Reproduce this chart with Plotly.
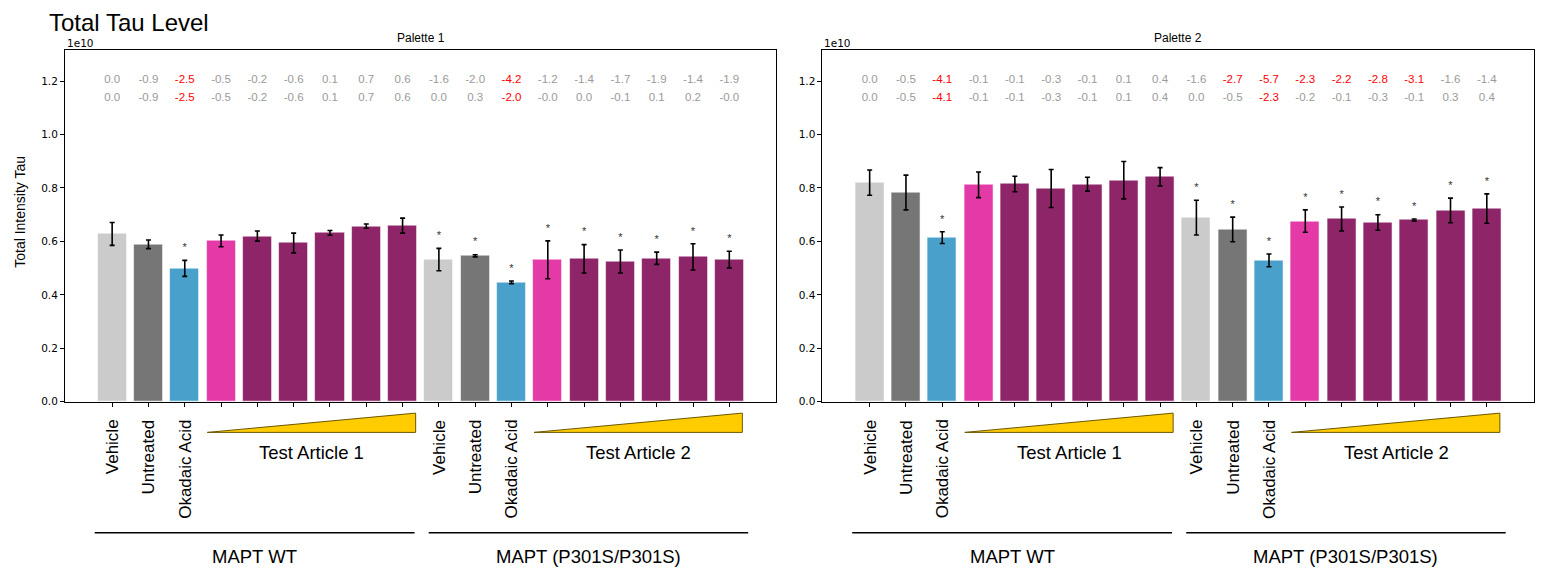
import plotly.graph_objects as go

FONT = "Liberation Sans, Arial, sans-serif"
TICK_FONT = "DejaVu Sans, sans-serif"

PANEL_TITLES = ["Palette 1", "Palette 2"]
GROUP_NAMES = ["MAPT WT", "MAPT (P301S/P301S)"]
CONTROL_LABELS = ["Vehicle", "Untreated", "Okadaic Acid"]
ARTICLE_LABELS = ["Test Article 1", "Test Article 2"]
Y_TICKS = [0.0, 0.2, 0.4, 0.6, 0.8, 1.0, 1.2]

BAR_COLORS = (["#cbcbcb", "#767676", "#48a0cb", "#e43aa7"] + ["#8e2568"] * 5) * 2

# panel 1 (Palette 1), units of 1e10
P1_MEAN = [0.628, 0.589, 0.499, 0.602, 0.620, 0.594, 0.632, 0.657, 0.659,
           0.532, 0.546, 0.447, 0.531, 0.535, 0.525, 0.537, 0.542, 0.532]
P1_ERR = [0.043, 0.016, 0.030, 0.022, 0.019, 0.037, 0.009, 0.008, 0.028,
          0.042, 0.004, 0.005, 0.071, 0.053, 0.043, 0.023, 0.049, 0.031]
P1_STAR = [0, 0, 1, 0, 0, 0, 0, 0, 0, 1, 1, 1, 1, 1, 1, 1, 1, 1]
P1_ROW1 = ["0.0", "-0.9", "-2.5", "-0.5", "-0.2", "-0.6", "0.1", "0.7", "0.6",
           "-1.6", "-2.0", "-4.2", "-1.2", "-1.4", "-1.7", "-1.9", "-1.4", "-1.9"]
P1_ROW1_RED = [0, 0, 1, 0, 0, 0, 0, 0, 0, 0, 0, 1, 0, 0, 0, 0, 0, 0]
P1_ROW2 = ["0.0", "-0.9", "-2.5", "-0.5", "-0.2", "-0.6", "0.1", "0.7", "0.6",
           "0.0", "0.3", "-2.0", "-0.0", "0.0", "-0.1", "0.1", "0.2", "-0.0"]
P1_ROW2_RED = [0, 0, 1, 0, 0, 0, 0, 0, 0, 0, 0, 1, 0, 0, 0, 0, 0, 0]

# panel 2 (Palette 2)
P2_MEAN = [0.820, 0.783, 0.614, 0.812, 0.815, 0.798, 0.814, 0.829, 0.842,
           0.689, 0.645, 0.529, 0.676, 0.684, 0.671, 0.680, 0.716, 0.723]
P2_ERR = [0.047, 0.065, 0.022, 0.048, 0.029, 0.071, 0.026, 0.070, 0.034,
          0.065, 0.046, 0.024, 0.042, 0.045, 0.029, 0.004, 0.046, 0.055]
P2_STAR = [0, 0, 1, 0, 0, 0, 0, 0, 0, 1, 1, 1, 1, 1, 1, 1, 1, 1]
P2_ROW1 = ["0.0", "-0.5", "-4.1", "-0.1", "-0.1", "-0.3", "-0.1", "0.1", "0.4",
           "-1.6", "-2.7", "-5.7", "-2.3", "-2.2", "-2.8", "-3.1", "-1.6", "-1.4"]
P2_ROW1_RED = [0, 0, 1, 0, 0, 0, 0, 0, 0, 0, 1, 1, 1, 1, 1, 1, 0, 0]
P2_ROW2 = ["0.0", "-0.5", "-4.1", "-0.1", "-0.1", "-0.3", "-0.1", "0.1", "0.4",
           "0.0", "-0.5", "-2.3", "-0.2", "-0.1", "-0.3", "-0.1", "0.3", "0.4"]
P2_ROW2_RED = [0, 0, 1, 0, 0, 0, 0, 0, 0, 0, 0, 1, 0, 0, 0, 0, 0, 0]

PANELS = [
    (P1_MEAN, P1_ERR, P1_STAR, P1_ROW1, P1_ROW1_RED, P1_ROW2, P1_ROW2_RED),
    (P2_MEAN, P2_ERR, P2_STAR, P2_ROW1, P2_ROW1_RED, P2_ROW2, P2_ROW2_RED),
]

# page is 1543x576 with the default 8px body margin around the figure
PAD = 8
W, H = 1543 - 2 * PAD, 576 - 2 * PAD


def px(page_x):
    return (page_x - PAD) / W


def py(page_y):
    return 1 - (page_y - PAD) / H


X_DOMAINS = [(px(65), px(777)), (px(823), px(1535))]
Y_DOMAIN = (py(406), py(50))
Y_MAX = 1.318
ROW1_Y, ROW2_Y = 1.205, 1.137
STAR_GAP = 0.045
GRAY, RED = "#9a9a9a", "#ff0000"

fig = go.Figure()
annotations = []
shapes = []


def note(text, x, y, xref="paper", size=12, **kw):
    kw.setdefault("xanchor", "center")
    kw.setdefault("yanchor", "middle")
    family = kw.pop("family", FONT)
    annotations.append(dict(text=text, x=x, y=y, xref=xref, yref="paper", showarrow=False,
                            font=dict(family=family, size=size, color="black"), **kw))


for p, (mean, err, star, row1, red1, row2, red2) in enumerate(PANELS):
    sfx = "" if p == 0 else str(p + 1)
    xref, yref = "x" + sfx, "y" + sfx
    xs = list(range(len(mean)))

    fig.add_trace(go.Bar(
        x=xs, y=mean, width=0.8, xaxis=xref, yaxis=yref,
        marker=dict(color=BAR_COLORS, line=dict(color="rgba(255,255,255,0.7)", width=0.8)),
        error_y=dict(type="data", array=err, color="black", thickness=1.6, width=2.5),
        showlegend=False,
    ))

    sx = [i for i in xs if star[i]]
    sy = [mean[i] + err[i] + STAR_GAP for i in sx]
    fig.add_trace(go.Scatter(
        x=sx, y=sy, mode="text", text=["*"] * len(sx), xaxis=xref, yaxis=yref,
        textfont=dict(family=FONT, size=11, color="#333333"), showlegend=False,
    ))

    for row, red, yv in ((row1, red1, ROW1_Y), (row2, red2, ROW2_Y)):
        fig.add_trace(go.Scatter(
            x=xs, y=[yv] * len(xs), mode="text", text=row, xaxis=xref, yaxis=yref,
            textfont=dict(family=FONT, size=11.5, color=[RED if r else GRAY for r in red]),
            showlegend=False,
        ))

    x0, x1 = X_DOMAINS[p]
    axis_common = dict(showline=True, mirror=True, linecolor="black", linewidth=1,
                       ticks="outside", ticklen=4, tickcolor="black", showgrid=False,
                       zeroline=False)
    fig.layout["xaxis" + sfx] = dict(
        domain=[x0, x1], range=[-1.3, 18.3], anchor=yref, tickvals=xs,
        showticklabels=False, **axis_common)
    fig.layout["yaxis" + sfx] = dict(
        domain=list(Y_DOMAIN), range=[0, Y_MAX], anchor=xref, tickvals=Y_TICKS,
        tickformat=".1f", tickfont=dict(family=TICK_FONT, size=10.5, color="black"),
        **axis_common)

    note(PANEL_TITLES[p], (x0 + x1) / 2, py(38), size=12)
    note("1e10", x0, py(43), size=10.5, xanchor="left", family=TICK_FONT)

    # rotated control labels under the bars of each genotype group
    for g in range(2):
        base = g * 9
        for k, lab in enumerate(CONTROL_LABELS):
            note(lab, base + k, py(422), xref=xref, size=17, textangle=-90, yanchor="top")
        lo, hi = base + 2.62, base + 8.36
        shapes.append(dict(type="path", xref=xref, yref="paper",
                           path=f"M {lo},{py(437)} L {hi},{py(417.5)} L {hi},{py(437)} Z",
                           fillcolor="#ffcc00", line=dict(color="#6b5800", width=1)))
        note(ARTICLE_LABELS[g], base + 5.5, py(457), xref=xref, size=18.5)

    for g, (lo, hi) in enumerate(((-0.48, 8.33), (8.72, 17.52))):
        shapes.append(dict(type="line", xref=xref, yref="paper", x0=lo, x1=hi,
                           y0=py(538.5), y1=py(538.5), line=dict(color="black", width=1.5)))
        note(GROUP_NAMES[g], (lo + hi) / 2, py(562), xref=xref, size=18.5)

note("Total Intensity Tau", px(20), py(214), size=14, textangle=-90)
# the figure starts 8px down the page, so the title hugs its top edge
note("Total Tau Level", px(48), 1.0, size=24, xanchor="left", yanchor="top", borderpad=0)

fig.update_layout(
    width=W, height=H,
    margin=dict(l=0, r=0, t=0, b=0),
    paper_bgcolor="white", plot_bgcolor="white",
    font=dict(family=FONT, color="black"),
    annotations=annotations,
    shapes=shapes,
    bargap=0,
)

fig.write_html("out.html")
